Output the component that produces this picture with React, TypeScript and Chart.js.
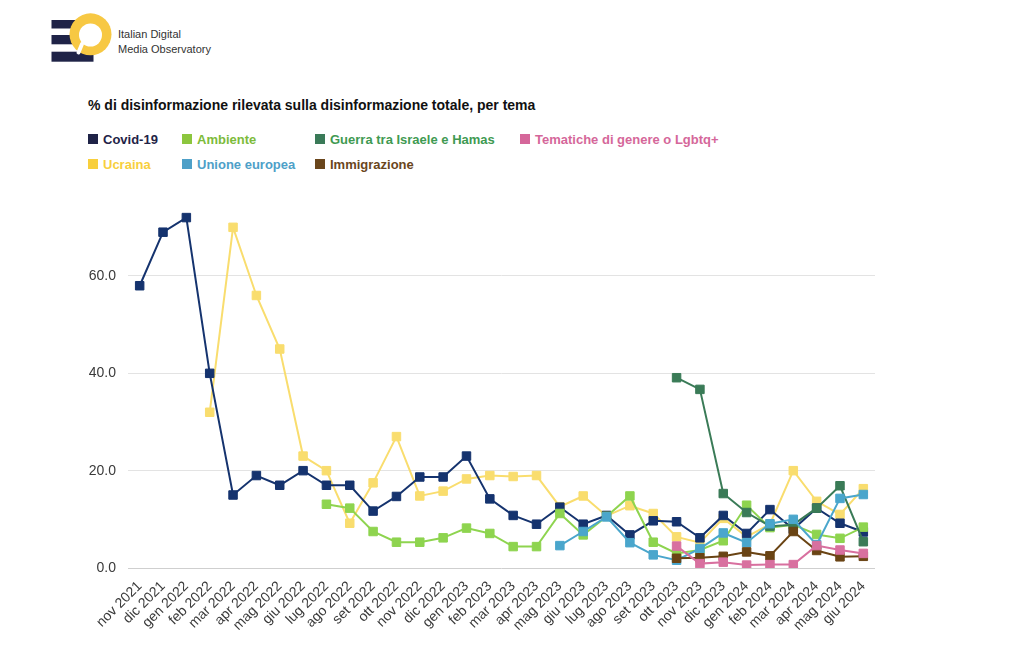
import React, { useEffect, useRef } from 'react';
import { Chart, registerables } from 'chart.js';
Chart.register(...registerables);

const labels = [
  'nov 2021', 'dic 2021', 'gen 2022', 'feb 2022', 'mar 2022', 'apr 2022', 'mag 2022', 'giu 2022',
  'lug 2022', 'ago 2022', 'set 2022', 'ott 2022', 'nov 2022', 'dic 2022', 'gen 2023', 'feb 2023',
  'mar 2023', 'apr 2023', 'mag 2023', 'giu 2023', 'lug 2023', 'ago 2023', 'set 2023', 'ott 2023',
  'nov 2023', 'dic 2023', 'gen 2024', 'feb 2024', 'mar 2024', 'apr 2024', 'mag 2024', 'giu 2024',
];

const covid = [58, 69, 72, 40, 15, 19, 17, 20, 17, 17, 11.7, 14.7, 18.7, 18.7, 23, 14.2,
  10.8, 9, 12.5, 9, 10.8, 6.8, 9.7, 9.5, 6.2, 10.8, 7.1, 12, 8, 12.3, 9.2, 7.4];

const ucraina = [null, null, null, 32, 70, 56, 45, 23, 20, 9.2, 17.5, 27, 14.8, 15.8, 18.3, 19,
  18.8, 19, 12.6, 14.8, 10.7, 12.8, 11.2, 6.4, 5.2, 10.2, 6.4, 9, 20, 13.7, 11, 16.3];

const ambiente = [null, null, null, null, null, null, null, null, 13.1, 12.3, 7.5, 5.3, 5.3, 6.2, 8.2, 7.1,
  4.4, 4.4, 11.2, 6.8, 10.6, 14.8, 5.3, 3.0, 3.7, 5.6, 12.9, 8.3, 8.9, 6.9, 6.1, 8.4];

const unioneEuropea = [null, null, null, null, null, null, null, null, null, null, null, null, null, null, null, null,
  null, null, 4.6, 7.5, 10.5, 5.2, 2.7, 1.6, 4.0, 7.2, 5.2, 9.1, 10.0, 4.8, 14.3, 15.1];

const guerra = [null, null, null, null, null, null, null, null, null, null, null, null, null, null, null, null,
  null, null, null, null, null, null, null, 39.1, 36.7, 15.3, 11.4, 8.6, 8.9, 12.3, 16.9, 5.4];

const immigrazione = [null, null, null, null, null, null, null, null, null, null, null, null, null, null, null, null,
  null, null, null, null, null, null, null, 2.0, 2.1, 2.4, 3.3, 2.5, 7.5, 3.6, 2.3, 2.4];

const tematiche = [null, null, null, null, null, null, null, null, null, null, null, null, null, null, null, null,
  null, null, null, null, null, null, null, 4.5, 0.9, 1.2, 0.6, 0.7, 0.7, 4.6, 3.7, 3.0];

const yTicks = [0, 20, 40, 60];

const title = '% di disinformazione rilevata sulla disinformazione totale, per tema';

// legend entries in visual grid order
const legendRows = [
  [
    { name: 'Covid-19', square: '#1f2347', text: '#1f2347', x: 88 },
    { name: 'Ambiente', square: '#8cc63e', text: '#7dbb3a', x: 182 },
    { name: 'Guerra tra Israele e Hamas', square: '#3a7a58', text: '#3f9a52', x: 315 },
    { name: 'Tematiche di genere o Lgbtq+', square: '#d5679a', text: '#d5679a', x: 520 },
  ],
  [
    { name: 'Ucraina', square: '#f8cf3c', text: '#f8cf3c', x: 88 },
    { name: 'Unione europea', square: '#4ea0c8', text: '#4ea0c8', x: 182 },
    { name: 'Immigrazione', square: '#6a461c', text: '#6a461c', x: 315 },
  ],
];

const FONT = '"Liberation Sans", Arial, Helvetica, sans-serif';

function ds(label: string, data: (number | null)[], color: string) {
  return {
    label,
    data,
    borderColor: color,
    backgroundColor: color,
    pointBackgroundColor: color,
    pointBorderColor: color,
    pointStyle: 'rect' as const,
    pointRadius: 6,
    pointBorderWidth: 1,
    borderWidth: 2,
    tension: 0,
  };
}

function Logo() {
  return (
    <svg width={190} height={60} style={{ position: 'absolute', left: 40, top: 8 }}>
      <rect x={11.5} y={12} width={42} height={8.5} fill="#1f2347" />
      <rect x={11.5} y={27} width={42} height={9.3} fill="#1f2347" />
      <rect x={11.5} y={43.7} width={42} height={10} fill="#1f2347" />
      <circle cx={50.5} cy={26.3} r={21} fill="#f7c843" />
      <circle cx={50.5} cy={27} r={11.5} fill="#ffffff" />
      <line x1={42} y1={36} x2={38.5} y2={44.5} stroke="#ffffff" strokeWidth={4} strokeLinecap="round" />
      <text x={78} y={30} fontFamily={FONT} fontSize={11} fill="#333">Italian Digital</text>
      <text x={78} y={44.5} fontFamily={FONT} fontSize={11} fill="#333">Media Observatory</text>
    </svg>
  );
}

export default function App() {
  const ref = useRef<HTMLCanvasElement>(null);
  useEffect(() => {
    const tickColor = '#3a3a3a';
    const chart = new Chart(ref.current!, {
      type: 'line',
      data: {
        labels,
        datasets: [
          ds('Tematiche di genere o Lgbtq+', tematiche, '#d8709f'),
          ds('Immigrazione', immigrazione, '#6a4414'),
          ds('Unione europea', unioneEuropea, '#4aa6cc'),
          ds('Guerra tra Israele e Hamas', guerra, '#3a7b57'),
          ds('Ambiente', ambiente, '#8ed44f'),
          ds('Covid-19', covid, '#15336e'),
          ds('Ucraina', ucraina, '#f9dd6e'),
        ],
      },
      options: {
        animation: false,
        responsive: false,
        maintainAspectRatio: false,
        layout: { padding: { left: 0, right: 149, top: 23, bottom: 0 } },
        plugins: { legend: { display: false }, tooltip: { enabled: false }, title: { display: false } },
        scales: {
          x: {
            offset: true,
            grid: { display: false, drawTicks: false },
            border: { display: false },
            ticks: {
              autoSkip: false,
              maxRotation: 45,
              minRotation: 45,
              padding: 10,
              color: tickColor,
              font: { family: FONT, size: 14 },
            },
            afterFit: (s: any) => { s.height = 104; },
          },
          y: {
            min: 0,
            max: 75,
            afterBuildTicks: (s: any) => { s.ticks = yTicks.map((v) => ({ value: v })); },
            ticks: {
              callback: (v: any) => Number(v).toFixed(1),
              padding: 12,
              color: tickColor,
              font: { family: FONT, size: 14 },
            },
            grid: {
              drawTicks: false,
              color: (c: any) => (c.tick && c.tick.value === 0 ? '#cfcfcf' : '#e3e3e3'),
            },
            border: { display: false },
            afterFit: (s: any) => { s.width = 128; },
          },
        },
      },
    } as any);
    return () => chart.destroy();
  }, []);

  return (
    <div style={{ position: 'absolute', left: 0, top: 0, width: 1024, height: 672, background: '#fff', overflow: 'hidden' }}>
      <Logo />
      <div style={{ position: 'absolute', left: 88, top: 97, fontFamily: FONT, fontWeight: 'bold', fontSize: 14, color: '#111', whiteSpace: 'nowrap' }}>
        {title}
      </div>
      {legendRows.map((row, ri) => row.map((it) => (
        <div key={it.name} style={{ position: 'absolute', left: it.x, top: 131 + ri * 25, height: 16, display: 'flex', alignItems: 'center', fontFamily: FONT, fontWeight: 'bold', fontSize: 13, color: it.text, whiteSpace: 'nowrap' }}>
          <span style={{ display: 'inline-block', width: 10, height: 10, background: it.square, marginRight: 5 }} />
          {it.name}
        </div>
      )))}
      <canvas ref={ref} width={1024} height={492} style={{ position: 'absolute', left: 0, top: 180, display: 'block' }} />
    </div>
  );
}
